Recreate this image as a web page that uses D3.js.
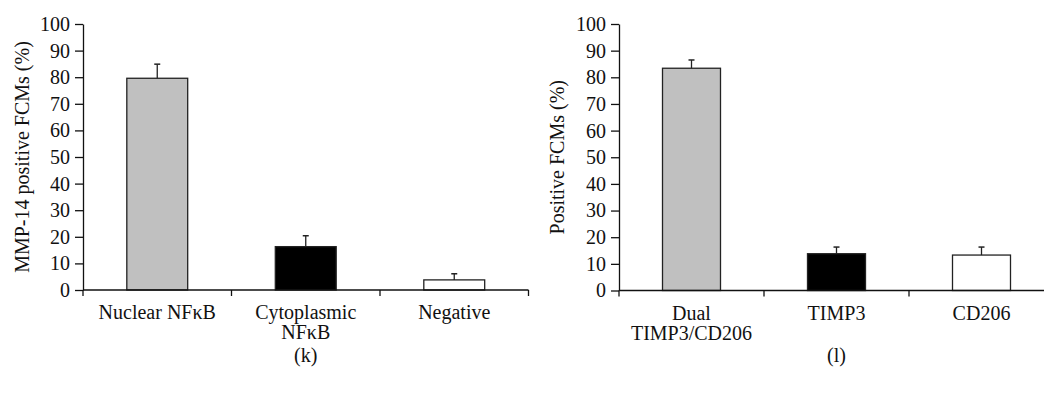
<!DOCTYPE html>
<html>
<head>
<meta charset="utf-8">
<script src="https://cdn.jsdelivr.net/npm/d3@7"></script>
<style>
  body { margin: 0; background: #fff; }
  text { font-family: "Liberation Serif", "DejaVu Serif", serif; fill: #111; }
</style>
</head>
<body>
<svg id="chart"></svg>
<script>
const width = 1044;
const height = 394;

// panel (k)
const kCategories = [["Nuclear NFκB"], ["Cytoplasmic", "NFκB"], ["Negative"]];
const kValues = [79.6, 16.3, 3.8];
const kErrors = [5.3, 4.1, 2.3];
const kYLabel = "MMP-14 positive FCMs (%)";

// panel (l)
const lCategories = [["Dual", "TIMP3/CD206"], ["TIMP3"], ["CD206"]];
const lValues = [83.4, 13.8, 13.3];
const lErrors = [3.1, 2.5, 3.0];
const lYLabel = "Positive FCMs (%)";

const yTicks = [0, 10, 20, 30, 40, 50, 60, 70, 80, 90, 100];
const fills = ["#c0c0c0", "#000000", "#ffffff"];

const svg = d3.select("#chart").attr("width", width).attr("height", height);

function panel({ left, right, top, bottom, cats, values, errors, yLabel, yLabelX, letter, pad }) {
  const names = cats.map(c => c.join(" "));
  const x = d3.scaleBand(names, [left, right]).paddingInner(pad).paddingOuter(pad / 2);
  const y = d3.scaleLinear([0, 100], [bottom, top]);
  const g = svg.append("g");

  // bars
  g.selectAll("rect.bar")
    .data(values)
    .join("rect")
    .attr("class", "bar")
    .attr("x", (d, i) => x(names[i]))
    .attr("width", x.bandwidth())
    .attr("y", d => y(d))
    .attr("height", d => y(0) - y(d))
    .style("fill", (d, i) => fills[i])
    .style("stroke", "#222")
    .style("stroke-width", 1.3);

  // error bars
  const err = g.selectAll("g.err")
    .data(values)
    .join("g")
    .attr("class", "err")
    .attr("transform", (d, i) => `translate(${x(names[i]) + x.bandwidth() / 2},0)`);
  err.append("line")
    .attr("y1", d => y(d))
    .attr("y2", (d, i) => y(d + errors[i]))
    .style("stroke", "#222").style("stroke-width", 1.3);
  err.append("line")
    .attr("x1", -3).attr("x2", 3)
    .attr("y1", (d, i) => y(d + errors[i]))
    .attr("y2", (d, i) => y(d + errors[i]))
    .style("stroke", "#222").style("stroke-width", 1.5);

  // y axis
  const yAxis = g.append("g")
    .attr("transform", `translate(${left},0)`)
    .call(d3.axisLeft(y).tickValues(yTicks).tickSize(8).tickPadding(5).tickSizeOuter(0));
  yAxis.selectAll("text").style("font-size", "20px").style("font-family", "Liberation Serif").attr("fill", "#111");
  yAxis.selectAll("line, path").attr("stroke", "#111").attr("stroke-width", 1.3);

  // x axis with ticks at category boundaries
  const step = x.step();
  const bounds = d3.range(names.length + 1).map(i => left + i * step);
  g.append("line")
    .attr("x1", left).attr("x2", right)
    .attr("y1", y(0)).attr("y2", y(0))
    .style("stroke", "#111").style("stroke-width", 1.3);
  g.selectAll("line.xtick")
    .data(bounds)
    .join("line")
    .attr("class", "xtick")
    .attr("x1", d => d).attr("x2", d => d)
    .attr("y1", y(0)).attr("y2", y(0) + 6)
    .style("stroke", "#111").style("stroke-width", 1.3);

  // category labels
  const lab = g.selectAll("text.cat")
    .data(cats)
    .join("text")
    .attr("class", "cat")
    .attr("text-anchor", "middle")
    .style("font-size", "20px")
    .attr("x", (d, i) => x(names[i]) + x.bandwidth() / 2)
    .attr("y", y(0) + 29);
  lab.selectAll("tspan")
    .data(d => d)
    .join("tspan")
    .attr("x", function () { return this.parentNode.getAttribute("x"); })
    .attr("dy", (d, i) => (i === 0 ? 0 : 20))
    .text(d => d);

  // y label
  g.append("text")
    .attr("transform", `translate(${yLabelX},${(top + bottom) / 2}) rotate(-90)`)
    .attr("text-anchor", "middle")
    .style("font-size", "20px")
    .text(yLabel);

  // panel letter
  g.append("text")
    .attr("x", (left + right) / 2)
    .attr("y", 362)
    .attr("text-anchor", "middle")
    .style("font-size", "20px")
    .text(letter);
}

panel({ left: 83, right: 528.5, top: 24, bottom: 290, cats: kCategories, values: kValues, errors: kErrors,
        yLabel: kYLabel, yLabelX: 29, letter: "(k)", pad: 0.59 });
panel({ left: 619, right: 1054, top: 24, bottom: 290.5, cats: lCategories, values: lValues, errors: lErrors,
        yLabel: lYLabel, yLabelX: 564, letter: "(l)", pad: 0.6 });
</script>
</body>
</html>
